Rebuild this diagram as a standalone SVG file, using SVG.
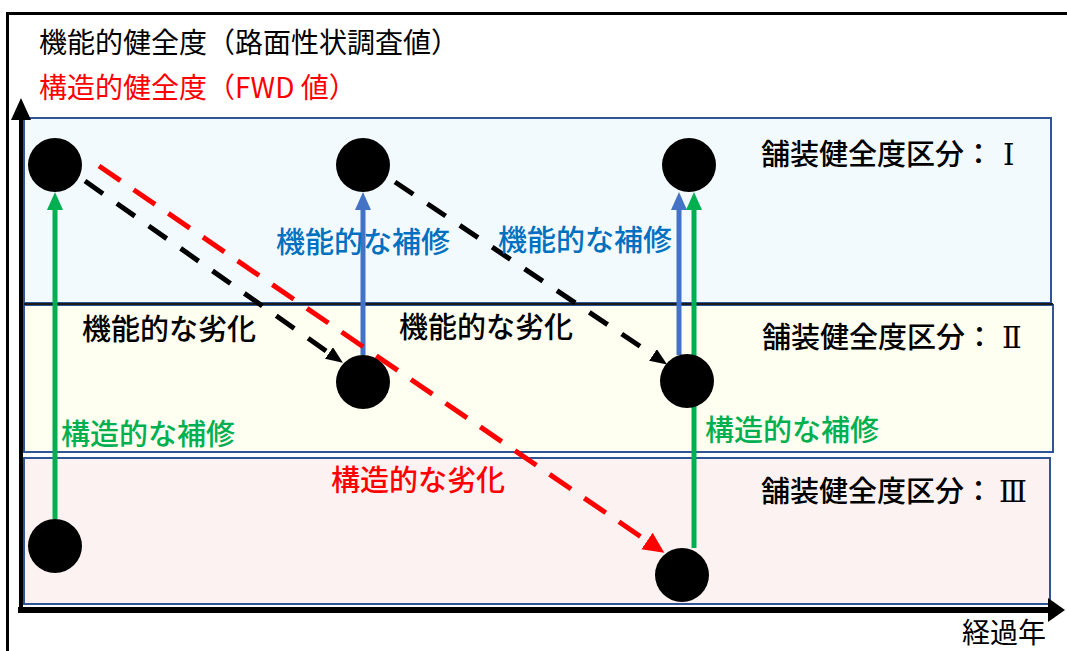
<svg xmlns="http://www.w3.org/2000/svg" width="1067" height="651" viewBox="0 0 1067 651">
<style>
text{font-family:"Noto Sans CJK JP","Noto Sans",sans-serif;}
.t{font-size:28px;}
.band{font-size:29px;fill:#000;font-weight:500;}
.rn{font-family:"DejaVu Serif","Liberation Serif","Noto Sans CJK JP",serif;font-weight:normal;}
.lbl{font-size:29px;font-weight:500;}
.bandrect{stroke:#2F5597;stroke-width:2;}
.node{fill:#000;}
.blue{stroke:#4472C4;stroke-width:5;fill:none;}
.green{stroke:#00B050;stroke-width:5;fill:none;}
.bdash{stroke:#000;stroke-width:5;fill:none;stroke-dasharray:22 17;}
.rdash{stroke:#FF0000;stroke-width:5;fill:none;stroke-dasharray:26 16;}
</style>
<defs>
<marker id="mBlue" markerUnits="userSpaceOnUse" markerWidth="18" markerHeight="18" refX="0" refY="8" orient="auto"><path d="M0,0 L18,8 L0,16 z" fill="#4472C4"/></marker>
<marker id="mGreen" markerUnits="userSpaceOnUse" markerWidth="18" markerHeight="18" refX="0" refY="8" orient="auto"><path d="M0,0 L18,8 L0,16 z" fill="#00B050"/></marker>
<marker id="mBlack" markerUnits="userSpaceOnUse" markerWidth="18" markerHeight="16" refX="0" refY="7" orient="auto"><path d="M0,0 L17,7 L0,14 z" fill="#000"/></marker>
<marker id="mRed" markerUnits="userSpaceOnUse" markerWidth="22" markerHeight="22" refX="0" refY="10" orient="auto"><path d="M0,0 L21,10 L0,20 z" fill="#FF0000"/></marker>
</defs>
<rect width="1067" height="651" fill="#fff"/>
<g id="frame">
<line x1="6" y1="13.5" x2="1067" y2="13.5" stroke="#000" stroke-width="3"/>
<line x1="7.5" y1="12" x2="7.5" y2="651" stroke="#000" stroke-width="3"/>
</g>
<g id="bands">
<g id="band1"><rect class="bandrect" x="24" y="118" width="1027" height="185" fill="#F2FAFE"/><text class="band" x="761" y="165">舗装健全度区分：<tspan class="rn" x="1003">Ⅰ</tspan></text></g>
<g id="band2"><rect class="bandrect" x="24" y="305" width="1029" height="147" fill="#FEFEF1"/><line x1="24" y1="304" x2="1053" y2="304" stroke="#1a1a1a" stroke-width="2"/><text class="band" x="762" y="348">舗装健全度区分：<tspan class="rn" x="1002">Ⅱ</tspan></text></g>
<g id="band3"><rect class="bandrect" x="24" y="458" width="1026" height="146" fill="#FDF2F2"/><text class="band" x="761" y="502">舗装健全度区分：<tspan class="rn" x="999">Ⅲ</tspan></text></g>
</g>
<g id="axes">
<line x1="21" y1="613" x2="21" y2="118" stroke="#000" stroke-width="4"/>
<polygon points="21,98 11,120 31,120" fill="#000"/>
<line x1="18" y1="610" x2="1049" y2="610" stroke="#000" stroke-width="6"/>
<polygon points="1065,610 1048,598 1048,622" fill="#000"/>
</g>
<g id="titles">
<text class="t" x="39" y="53" fill="#000">機能的健全度（路面性状調査値）</text>
<text class="t" x="39" y="98" fill="#FF0000">構造的健全度（FWD 値）</text>
<text class="t" x="962" y="643" fill="#000">経過年</text>
</g>
<g id="connectors">
<path class="green" d="M55,519 L55,210" marker-end="url(#mGreen)"/>
<path class="blue" d="M363,355 L363,210" marker-end="url(#mBlue)"/>
<path class="blue" d="M679,355 L679,210" marker-end="url(#mBlue)"/>
<path class="green" d="M694,548 L694,210" marker-end="url(#mGreen)"/>
<path class="bdash" d="M85,181 L329,353" marker-end="url(#mBlack)"/>
<path class="bdash" d="M395,182 L653,355" marker-end="url(#mBlack)"/>
<path class="rdash" d="M99,166 L647,541" marker-end="url(#mRed)"/>
</g>
<g id="labels">
<text class="lbl" x="276" y="253" fill="#0070C0">機能的な補修</text>
<text class="lbl" x="498" y="251" fill="#0070C0">機能的な補修</text>
<text class="lbl" x="82" y="340" fill="#000">機能的な劣化</text>
<text class="lbl" x="399" y="338" fill="#000">機能的な劣化</text>
<text class="lbl" x="61" y="445" fill="#00B050">構造的な補修</text>
<text class="lbl" x="705" y="441" fill="#00B050">構造的な補修</text>
<text class="lbl" x="331" y="491" fill="#FF0000">構造的な劣化</text>
</g>
<g id="n1"><circle class="node" cx="55" cy="165" r="27"/></g>
<g id="n2"><circle class="node" cx="363" cy="165" r="27"/></g>
<g id="n3"><circle class="node" cx="689" cy="165" r="27"/></g>
<g id="n4"><circle class="node" cx="363" cy="382" r="27"/></g>
<g id="n5"><circle class="node" cx="687" cy="381" r="27"/></g>
<g id="n6"><circle class="node" cx="55" cy="546" r="27"/></g>
<g id="n7"><circle class="node" cx="682" cy="575" r="27"/></g>
</svg>
